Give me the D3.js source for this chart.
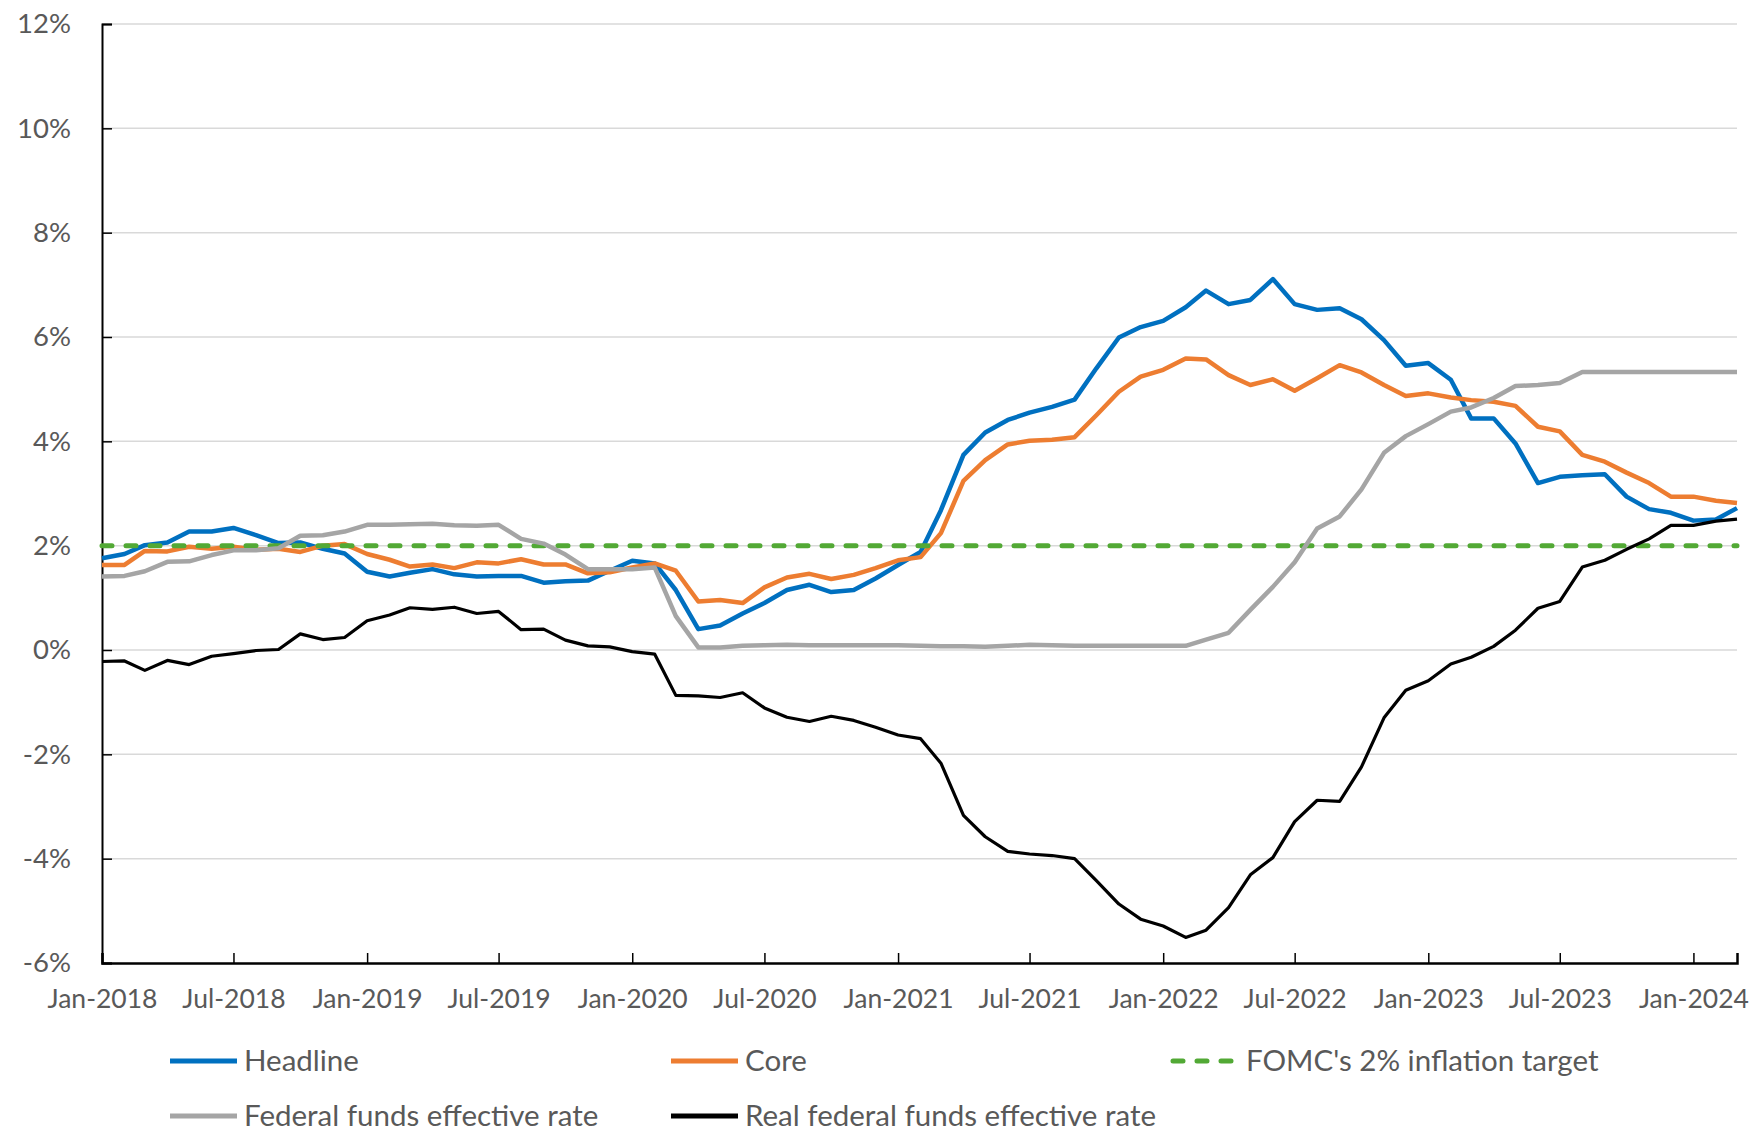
<!DOCTYPE html>
<html><head><meta charset="utf-8">
<script src="https://cdn.jsdelivr.net/npm/d3@7"></script>
<style>
html,body{margin:0;padding:0;background:#fff;}
svg{display:block;}
text{font-family:Lato,"Open Sans",sans-serif;fill:#595959;}
</style></head>
<body>
<svg id="chart" width="1757" height="1131"></svg>
<script>
// ---- data (monthly, Jan-2018 .. Mar-2024) ----
const startMonth = "2018-01";
const headline = [
 1.76,1.84,2.01,2.06,2.27,2.27,2.34,2.20,2.05,2.06,1.94,1.85,
 1.50,1.41,1.48,1.55,1.45,1.41,1.42,1.42,1.29,1.32,1.33,1.52,
 1.71,1.66,1.15,0.40,0.47,0.70,0.90,1.15,1.25,1.11,1.15,1.37,
 1.63,1.88,2.68,3.74,4.17,4.41,4.55,4.66,4.80,5.40,5.99,6.19,
 6.31,6.57,6.89,6.63,6.71,7.11,6.63,6.52,6.55,6.34,5.94,5.45,
 5.50,5.18,4.44,4.44,3.96,3.20,3.32,3.35,3.37,2.94,2.70,2.63,
 2.48,2.50,2.72];
const core = [
 1.63,1.63,1.90,1.89,1.98,1.94,1.98,1.92,1.94,1.88,2.00,2.03,
 1.84,1.73,1.60,1.64,1.57,1.68,1.66,1.74,1.64,1.64,1.47,1.49,
 1.58,1.66,1.52,0.93,0.96,0.90,1.20,1.39,1.46,1.36,1.44,1.57,
 1.72,1.78,2.24,3.24,3.64,3.94,4.01,4.03,4.08,4.50,4.95,5.24,
 5.37,5.59,5.57,5.27,5.08,5.19,4.97,5.21,5.46,5.32,5.08,4.87,
 4.92,4.84,4.79,4.76,4.68,4.28,4.19,3.74,3.61,3.40,3.20,2.94,
 2.94,2.86,2.82];
const fedFunds = [
 1.41,1.42,1.51,1.69,1.70,1.82,1.91,1.91,1.95,2.19,2.20,2.27,
 2.40,2.40,2.41,2.42,2.39,2.38,2.40,2.13,2.04,1.83,1.55,1.55,
 1.55,1.58,0.65,0.05,0.05,0.08,0.09,0.10,0.09,0.09,0.09,0.09,
 0.09,0.08,0.07,0.07,0.06,0.08,0.10,0.09,0.08,0.08,0.08,0.08,
 0.08,0.08,0.20,0.33,0.77,1.21,1.68,2.33,2.56,3.08,3.78,4.10,
 4.33,4.57,4.65,4.83,5.06,5.08,5.12,5.33,5.33,5.33,5.33,5.33,
 5.33,5.33,5.33];
const realFedFunds = [
 -0.22,-0.21,-0.39,-0.20,-0.28,-0.12,-0.07,-0.01,0.01,0.31,0.20,0.24,
 0.56,0.67,0.81,0.78,0.82,0.70,0.74,0.39,0.40,0.19,0.08,0.06,
 -0.03,-0.08,-0.87,-0.88,-0.91,-0.82,-1.11,-1.29,-1.37,-1.27,-1.35,-1.48,
 -1.63,-1.70,-2.17,-3.17,-3.58,-3.86,-3.91,-3.94,-4.00,-4.42,-4.87,-5.16,
 -5.29,-5.51,-5.37,-4.94,-4.31,-3.98,-3.29,-2.88,-2.90,-2.24,-1.30,-0.77,
 -0.59,-0.27,-0.14,0.07,0.38,0.80,0.93,1.59,1.72,1.93,2.13,2.39,
 2.39,2.47,2.51];
const targetRate = 2;
const yTicks = [-6,-4,-2,0,2,4,6,8,10,12];
const xTickLabels = ["Jan-2018","Jul-2018","Jan-2019","Jul-2019","Jan-2020","Jul-2020","Jan-2021",
 "Jul-2021","Jan-2022","Jul-2022","Jan-2023","Jul-2023","Jan-2024"];
const seriesNames = ["Headline","Core","FOMC's 2% inflation target","Federal funds effective rate","Real federal funds effective rate"];
const seriesColors = ["#0070C0","#ED7D31","#52A935","#A5A5A5","#000000"];

// ---- build ----
const parseMonth = d3.timeParse("%Y-%m");
const fmt = d3.timeFormat("%b-%Y");
const parseTick = d3.timeParse("%b-%Y");
const t0 = parseMonth(startMonth);
const dates = headline.map((_, i) => d3.timeMonth.offset(t0, i));

const svg = d3.select("#chart");
const L = 102, R = 1737, T = 24, B = 963;
const x = d3.scaleTime().domain([dates[0], dates[dates.length-1]]).range([L, R]);
const y = d3.scaleLinear().domain([-6, 12]).range([B, T]);

// gridlines
svg.append("g").selectAll("line").data(yTicks.filter(v => v !== -6)).join("line")
  .attr("x1", L).attr("x2", R).attr("y1", d => y(d)).attr("y2", d => y(d))
  .attr("stroke", "#D9D9D9").attr("stroke-width", 1.5);

// y axis
const yAxis = svg.append("g").attr("transform", `translate(${L},0)`)
  .call(d3.axisLeft(y).tickValues(yTicks).tickSize(-10).tickPadding(31)
        .tickFormat(d => d + "%"));
yAxis.select(".domain").attr("stroke", "#000").attr("stroke-width", 2);
yAxis.selectAll(".tick line").attr("stroke", "#000").attr("stroke-width", 1.5);
yAxis.selectAll("text").style("font-size", "27.5px").attr("fill", "#595959");

// x axis
const xAxis = svg.append("g").attr("transform", `translate(0,${B})`)
  .call(d3.axisBottom(x).tickValues(xTickLabels.map(s => parseTick(s))).tickSize(-10)
        .tickPadding(0).tickFormat(fmt));
xAxis.select(".domain").attr("stroke", "#000").attr("stroke-width", 2.5);
xAxis.selectAll(".tick line").attr("stroke", "#000").attr("stroke-width", 1.5);
xAxis.selectAll("text").attr("y", 45).attr("dy", 0).style("font-size", "26.5px").attr("fill", "#595959");

// lines
const lineGen = d3.line().x((d, i) => x(dates[i])).y(d => y(d));
const plotSeries = [
  {vals: headline, c: 0, w: 4.5},
  {vals: core, c: 1, w: 4.5},
];
plotSeries.forEach(s => svg.append("path").datum(s.vals).attr("d", lineGen)
  .attr("fill", "none").attr("stroke", seriesColors[s.c]).attr("stroke-width", s.w)
  .attr("stroke-linejoin", "round"));

// target
svg.append("line").attr("x1", x(dates[0])).attr("x2", x(dates[dates.length-1]))
  .attr("y1", y(targetRate)).attr("y2", y(targetRate))
  .attr("stroke", seriesColors[2]).attr("stroke-width", 5)
  .attr("stroke-dasharray", "10,14").attr("stroke-linecap", "round");

[{vals: fedFunds, c: 3, w: 4.5}, {vals: realFedFunds, c: 4, w: 3.2}].forEach(s =>
  svg.append("path").datum(s.vals).attr("d", lineGen)
  .attr("fill", "none").attr("stroke", seriesColors[s.c]).attr("stroke-width", s.w)
  .attr("stroke-linejoin", "round"));

// legend
const legendPos = [
  {x: 168, y: 1061}, {x: 669, y: 1061}, {x: 1170, y: 1061},
  {x: 168, y: 1116}, {x: 669, y: 1116}
];
seriesNames.forEach((n, i) => {
  const g = svg.append("g").attr("transform", `translate(${legendPos[i].x},${legendPos[i].y})`);
  const ln = g.append("line").attr("x1", 2).attr("x2", 69).attr("y1", 0).attr("y2", 0)
    .attr("stroke", seriesColors[i]).attr("stroke-width", 5);
  if (i === 2) ln.attr("stroke-dasharray", "10,14").attr("stroke-linecap", "round").attr("x1", 3).attr("x2", 66);
  g.append("text").attr("x", 76).attr("y", 0).attr("dy", "0.35em")
    .style("font-size", "29.5px").text(n);
});
</script>
</body></html>
